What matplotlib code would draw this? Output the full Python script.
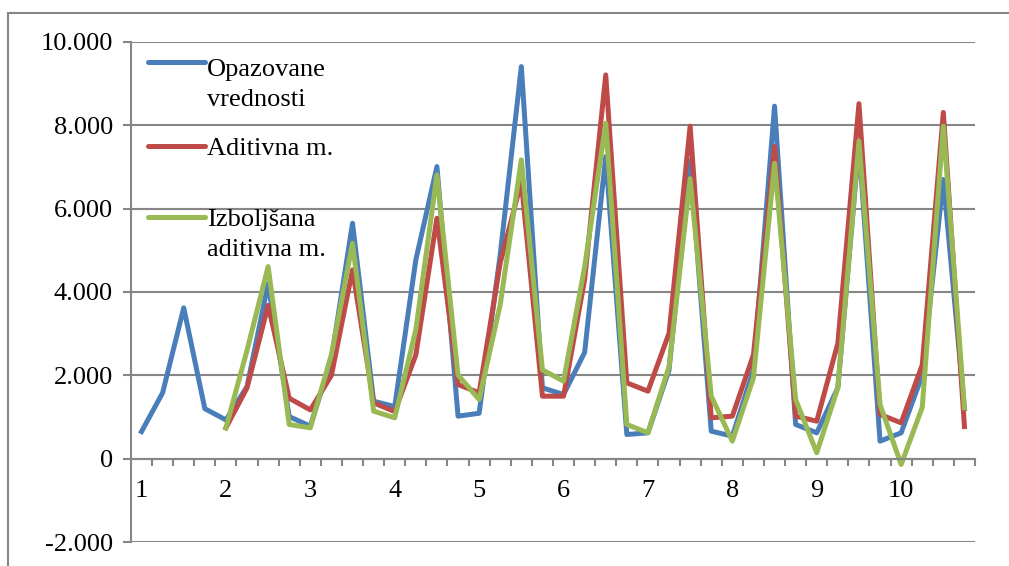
import numpy as np
import matplotlib
matplotlib.use("Agg")
import matplotlib.pyplot as plt
from matplotlib.ticker import FixedLocator, FuncFormatter
from matplotlib.patches import Rectangle

# kvartalni podaci, 10 godina x 4 kvartala
godine = [str(g) for g in range(1, 11)]
opazovane = [650, 1580, 3620, 1200, 930, 1730, 4200, 1010, 780, 2400,
             5650, 1380, 1250, 4770, 7010, 1020, 1090, 4900, 9410, 1700,
             1540, 2550, 7250, 580, 620, 2130, 7150, 660, 540, 2130,
             8460, 820, 620, 1700, 7550, 420, 620, 2000, 6700, 1200]
aditivna = [np.nan, np.nan, np.nan, np.nan, 740, 1700, 3680, 1450, 1170, 2000,
            4530, 1340, 1130, 2490, 5770, 1780, 1580, 4700, 6650, 1500,
            1500, 4300, 9210, 1820, 1620, 3010, 7980, 980, 1020, 2490,
            7490, 1020, 900, 2770, 8520, 1060, 860, 2250, 8310, 770]
izboljsana = [np.nan, np.nan, np.nan, np.nan, 740, 2600, 4610, 820, 740, 2500,
              5170, 1140, 980, 3090, 6810, 2010, 1420, 3700, 7170, 2130,
              1860, 4600, 8050, 820, 620, 2210, 6720, 1500, 420, 1940,
              7090, 1420, 140, 1700, 7620, 1300, -140, 1230, 7980, 1220]

plt.rcParams['font.family'] = ['Liberation Serif', 'DejaVu Serif']
plt.rcParams['font.size'] = 19

gray = '#868686'
fig = plt.figure(figsize=(10.09, 5.66), dpi=100)
ax = fig.add_axes([0.1298, 0.0424, 0.8365, 0.8834])

# (podaci, boja, naziv, y linije u legendi, y osnovne linije poslednjeg reda teksta)
serije = [
    (opazovane, '#4a7ebb', 'Opazovane\nvrednosti', 0.960, 0.872),
    (aditivna, '#be4b48', 'Aditivna m.', 0.792, 0.774),
    (izboljsana, '#98b954', 'Izboljšana\naditivna m.', 0.650, 0.572),
]

x = np.arange(len(opazovane))
for vrednosti, boja, naziv, y_linija, y_tekst in serije:
    ax.plot(x, vrednosti, color=boja, lw=3.6)
    # legenda: kratka linija + tekst
    ax.plot([0.020, 0.088], [y_linija, y_linija], color=boja, lw=3.6,
            solid_capstyle='round', transform=ax.transAxes)
    ax.text(0.090, y_tekst, naziv, transform=ax.transAxes, va='baseline',
            ha='left', linespacing=1.45)

ax.set_xlim(-0.5, len(x) - 0.5)
ax.set_ylim(-2000, 10000)
ax.set_yticks(np.arange(-2000, 10001, 2000))
ax.yaxis.set_major_formatter(FuncFormatter(lambda v, p: f"{v:,.0f}".replace(",", ".")))
ax.yaxis.grid(True, color=gray, lw=1.5)
ax.set_axisbelow(True)

# x osa kroz nulu, crtice izmedju kategorija
ax.spines['bottom'].set_position(('data', 0))
ax.spines['bottom'].set_color(gray)
ax.spines['bottom'].set_linewidth(1.5)
ax.spines['left'].set_color(gray)
ax.spines['left'].set_linewidth(1.5)
ax.spines['top'].set_visible(False)
ax.spines['right'].set_visible(False)
ax.set_xticks(np.arange(0, len(x), 4))
ax.set_xticklabels(godine)
ax.xaxis.set_minor_locator(FixedLocator(np.arange(0.5, len(x), 1)))
ax.tick_params(axis='x', which='major', length=0, pad=15.5)
ax.tick_params(axis='x', which='minor', length=5, width=1.5, color=gray, direction='out')
ax.tick_params(axis='y', length=5.8, width=1.5, color=gray, pad=7.2)

# okvir grafikona
fig.patches.append(Rectangle((8 / 1009, -0.1), 1.2, 1.1 - 13 / 566, transform=fig.transFigure,
                             fill=False, edgecolor=gray, lw=1.5, clip_on=False))

fig.savefig('out.png', dpi=100)
